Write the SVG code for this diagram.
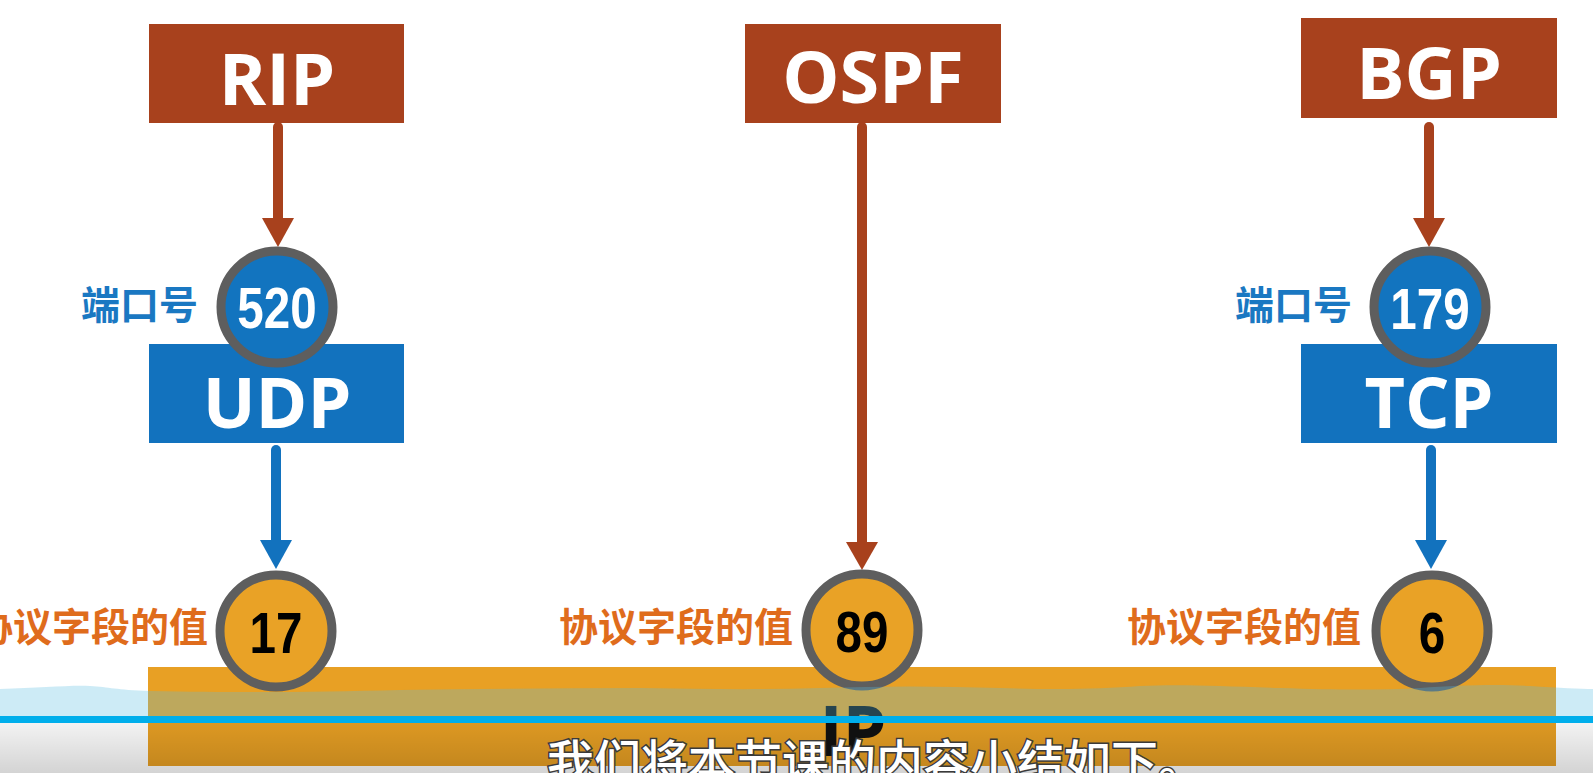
<svg xmlns="http://www.w3.org/2000/svg" width="1593" height="773" viewBox="0 0 1593 773">
<defs>
<style>
.rbox{fill:#A8411D}
.bbox{fill:#1272BE}
.big{font-family:"Open Sans","Liberation Sans",sans-serif;font-weight:700;fill:#fff;text-anchor:middle}
.ring{stroke:#5E5E5E;stroke-width:9}
.bc{fill:#1274BF}
.oc{fill:#E9A226}
.num{font-family:"Liberation Sans",Arial,sans-serif;font-weight:700;font-size:58px;text-anchor:middle}
.lab{font-family:"Noto Sans CJK SC",sans-serif;font-weight:700;font-size:39px;text-anchor:end}
.rl{stroke:#A8411D;stroke-width:10;stroke-linecap:round;fill:none}
.bl{stroke:#1272BE;stroke-width:10;stroke-linecap:round;fill:none}
</style>
<linearGradient id="sub" x1="0" y1="0" x2="0" y2="1">
<stop offset="0" stop-color="#000" stop-opacity="0.05"/>
<stop offset="1" stop-color="#000" stop-opacity="0.17"/>
</linearGradient>
</defs>
<rect width="1593" height="773" fill="#fff"/>

<g id="node-rip"><rect class="rbox" x="149" y="24" width="255" height="99"/><text class="big" x="277" y="105" font-size="72">RIP</text></g>
<g id="node-ospf"><rect class="rbox" x="745" y="24" width="256" height="99"/><text class="big" x="873" y="103" font-size="72">OSPF</text></g>
<g id="node-bgp"><rect class="rbox" x="1301" y="18" width="256" height="100"/><text class="big" x="1429" y="99" font-size="72">BGP</text></g>
<g id="node-udp"><rect class="bbox" x="149" y="344" width="255" height="99"/><text class="big" x="277" y="428" font-size="70">UDP</text></g>
<g id="node-tcp"><rect class="bbox" x="1301" y="344" width="256" height="99"/><text class="big" x="1429" y="428" font-size="70">TCP</text></g>

<g id="node-ip">
<rect x="148" y="667" width="1408" height="99" fill="#E8A024"/>
<text x="853" y="756" font-family="Open Sans, Liberation Sans, sans-serif" font-weight="700" font-size="70" fill="#111" text-anchor="middle">IP</text>
</g>

<g id="connectors">
<line class="rl" x1="278" y1="127" x2="278" y2="222"/><polygon fill="#A8411D" points="262,218 294,218 278,247"/>
<line class="rl" x1="862" y1="127" x2="862" y2="545"/><polygon fill="#A8411D" points="846,542 878,542 862,570"/>
<line class="rl" x1="1429" y1="127" x2="1429" y2="222"/><polygon fill="#A8411D" points="1413,218 1445,218 1429,247"/>
<line class="bl" x1="276" y1="450" x2="276" y2="544"/><polygon fill="#1272BE" points="260,540 292,540 276,569"/>
<line class="bl" x1="1431" y1="450" x2="1431" y2="544"/><polygon fill="#1272BE" points="1415,540 1447,540 1431,569"/>
</g>

<g id="node-port520">
<circle class="bc ring" cx="277" cy="307" r="56"/>
<text class="num" fill="#fff" transform="translate(277 328) scale(0.82 1)">520</text>
<text class="lab" fill="#1A78C2" x="198" y="319">端口号</text>
</g>
<g id="node-port179">
<circle class="bc ring" cx="1430" cy="307" r="56"/>
<text class="num" fill="#fff" transform="translate(1430 329) scale(0.82 1)">179</text>
<text class="lab" fill="#1A78C2" x="1352" y="319">端口号</text>
</g>
<g id="node-proto17">
<circle class="oc ring" cx="276" cy="631" r="56"/>
<text class="num" fill="#000" transform="translate(276 653) scale(0.82 1)">17</text>
<text class="lab" fill="#DF6C1C" x="208" y="641">协议字段的值</text>
</g>
<g id="node-proto89">
<circle class="oc ring" cx="862" cy="630" r="56"/>
<text class="num" fill="#000" transform="translate(862 652) scale(0.82 1)">89</text>
<text class="lab" fill="#DF6C1C" x="793" y="641">协议字段的值</text>
</g>
<g id="node-proto6">
<circle class="oc ring" cx="1432" cy="631" r="56"/>
<text class="num" fill="#000" transform="translate(1432 653) scale(0.82 1)">6</text>
<text class="lab" fill="#DF6C1C" x="1361" y="641">协议字段的值</text>
</g>

<path d="M0 689 C40 688 70 685 90 686 C110 687 115 690 150 691 C250 693 320 692 400 690 C480 689 560 688 640 688 C700 689 760 690 820 688 C880 686 940 686 1000 688 C1060 690 1100 689 1140 686 C1180 684 1220 686 1280 688 C1340 690 1380 690 1420 688 C1460 685 1500 684 1530 686 C1560 688 1580 689 1593 689 L1593 716 L0 716 Z" fill="#5ABDE1" fill-opacity="0.3"/>
<rect x="0" y="716" width="1593" height="7" fill="#00AEEB"/>
<rect x="0" y="723" width="1593" height="50" fill="url(#sub)"/>
<text x="547" y="779" font-family="Noto Sans CJK SC, sans-serif" font-weight="500" font-size="47" fill="#fff" stroke="#3A3A3A" stroke-width="3" paint-order="stroke">我们将本节课的内容小结如下。</text>
</svg>
